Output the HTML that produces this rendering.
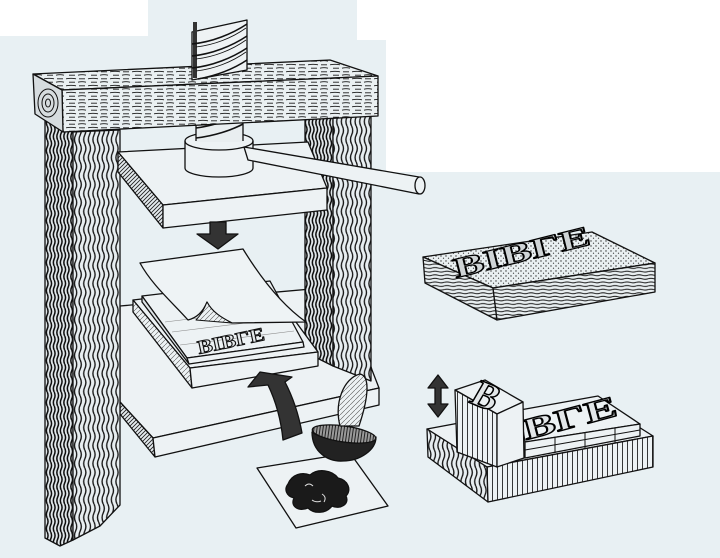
<!DOCTYPE html>
<html><head><meta charset="utf-8">
<style>html,body{margin:0;padding:0;background:#e8f0f3}svg{display:block}</style>
</head><body>
<svg xmlns="http://www.w3.org/2000/svg" width="720" height="558" viewBox="0 0 720 558">
<defs>
  <pattern id="legF" width="4.6" height="18" patternUnits="userSpaceOnUse">
    <rect width="4.6" height="18" fill="#e8eef1"/>
    <path d="M2,0 Q4.2,4.5 2,9 Q-0.2,13.5 2,18" stroke="#141414" stroke-width="1.35" fill="none"/>
  </pattern>
  <pattern id="legS" width="3.5" height="14" patternUnits="userSpaceOnUse">
    <rect width="3.5" height="14" fill="#e0e6e9"/>
    <path d="M1.7,0 Q3.4,3.5 1.7,7 Q0,10.5 1.7,14" stroke="#0e0e0e" stroke-width="1.5" fill="none"/>
  </pattern>
  <pattern id="beam" width="22" height="7" patternUnits="userSpaceOnUse">
    <rect width="22" height="7" fill="#eaf0f2"/>
    <path d="M0,1.8 Q5,0.8 10,1.8 M13,1.8 h6 M3,5.2 h6 M12,5.2 Q16,4.2 20,5.2" stroke="#1a1a1a" stroke-width="0.9" fill="none"/>
  </pattern>
  <pattern id="hatchD" width="4" height="4" patternUnits="userSpaceOnUse">
    <rect width="4" height="4" fill="#e6ecef"/>
    <path d="M-1,1 L1,-1 M0,4 L4,0 M3,5 L5,3" stroke="#222" stroke-width="0.9" fill="none"/>
  </pattern>
  <pattern id="hatchL" width="5" height="5" patternUnits="userSpaceOnUse">
    <rect width="5" height="5" fill="#edf2f4"/>
    <path d="M0,5 L5,0" stroke="#555" stroke-width="0.6" fill="none"/>
  </pattern>
  <pattern id="vstripe" width="5" height="10" patternUnits="userSpaceOnUse">
    <rect width="5" height="10" fill="#edf2f4"/>
    <path d="M2.5,0 V10" stroke="#222" stroke-width="0.9"/>
  </pattern>
  <pattern id="stip" width="5" height="5" patternUnits="userSpaceOnUse">
    <rect width="5" height="5" fill="#e9eff1"/>
    <circle cx="1" cy="1" r="0.7" fill="#333"/>
    <circle cx="3.5" cy="3.2" r="0.6" fill="#333"/>
  </pattern>
  <pattern id="woodH" width="12" height="3.6" patternUnits="userSpaceOnUse">
    <rect width="12" height="3.6" fill="#e8eef0"/>
    <path d="M0,1.6 Q3,0.7 6,1.6 T12,1.6" stroke="#1a1a1a" stroke-width="1" fill="none"/>
  </pattern>
  <pattern id="rays" width="3" height="3" patternUnits="userSpaceOnUse">
    <rect width="3" height="3" fill="#9a9a9a"/>
    <path d="M1.5,0 V3" stroke="#222" stroke-width="1"/>
  </pattern>
</defs>

<!-- background -->
<rect width="720" height="558" fill="#e8f0f3"/>
<rect x="0" y="0" width="148" height="36" fill="#ffffff"/>
<rect x="357" y="0" width="363" height="40" fill="#ffffff"/>
<rect x="386" y="40" width="334" height="132" fill="#ffffff"/>

<g stroke="#111" stroke-width="1.3" stroke-linejoin="round">
<!-- lower platen -->
<polygon points="120,306 345,286 372,370 379,388 153,438 120,402" fill="#edf2f4"/>
<polygon points="120,402 153,438 155,457 120,414" fill="url(#hatchD)"/>
<polygon points="153,438 379,388 379,405 155,457" fill="#edf2f4"/>

<!-- right leg -->
<polygon points="305,113 333,113 333,366 305,352" fill="url(#legS)"/>
<polygon points="333,113 371,113 371,381 333,366" fill="url(#legF)"/>

<!-- left leg -->
<polygon points="45,118 73,132 73,540 60,546 45,538" fill="url(#legS)"/>
<polygon points="73,132 120,130 120,505 100,526 73,540" fill="url(#legF)"/>

<!-- upper platen -->
<polygon points="118,152 308,142 327,188 163,205" fill="#edf2f4"/>
<polygon points="118,152 163,205 163,228 118,172" fill="url(#hatchD)"/>
<polygon points="163,205 327,188 327,210 163,228" fill="#edf2f4"/>

<!-- nut cylinder -->
<path d="M185,141 L185,168 A34,9 0 0 0 253,168 L253,141 A34,9 0 0 0 185,141 Z" fill="#edf2f4"/>
<!-- screw below beam -->
<rect x="196" y="112" width="47" height="30" fill="#e9eef0" stroke="none"/>
<path d="M196,112 V141 M243,112 V141" fill="none"/>
<path d="M196,128 C212,126 230,120 243,114 M196,138 C214,136 232,130 243,124" fill="none" stroke-width="1.6"/>
<path d="M185,141 A34,9 0 0 0 253,141" fill="none"/>

<!-- handle -->
<polygon points="244,147 419,177 419,194 248,160" fill="#edf2f4"/>
<ellipse cx="420" cy="185.5" rx="5" ry="8.5" fill="#edf2f4"/>

<!-- beam -->
<polygon points="33,74 330,60 378,76 62,90" fill="url(#beam)"/>
<polygon points="62,90 378,76 378,116 63,132" fill="url(#beam)"/>
<polygon points="33,74 62,90 63,132 35,114" fill="#d6dcdf"/>
<g fill="none" stroke-width="1">
  <ellipse cx="48" cy="103" rx="10" ry="14"/>
  <ellipse cx="48" cy="103" rx="6" ry="9"/>
  <ellipse cx="48" cy="103" rx="2.5" ry="4"/>
</g>

<!-- screw above beam -->
<polygon points="192,32 247,20 247,70 192,80" fill="#eef2f4"/>
<rect x="193" y="22" width="4" height="56" fill="#333" stroke="none"/>
<path d="M192,44 C212,42 232,34 247,24 M192,56 C212,54 232,46 247,36 M192,68 C212,66 232,58 247,48 M198,79 C214,76 232,70 247,60" fill="none" stroke-width="1.5"/>
<path d="M196,47 C214,45 232,38 246,28 M196,59 C214,57 232,50 246,40 M196,71 C214,69 232,62 246,52" fill="none" stroke-width="0.8"/>

<!-- down arrow -->
<polygon points="210,222 226,222 226,234 238,234 218,249 197,234 210,234" fill="#333"/>

<!-- type board stack -->
<polygon points="133,300 268,284 318,352 190,368" fill="#edf2f4"/>
<polygon points="133,300 190,368 192,388 133,312" fill="url(#hatchL)"/>
<polygon points="190,368 318,352 318,366 192,388" fill="#edf2f4"/>
<polygon points="142,296 270,281 303,342 187,358" fill="#edf2f4"/>
<polygon points="142,296 187,358 189,364 142,302" fill="#dfe5e8"/>
<polygon points="187,358 303,342 304,347 189,364" fill="#edf2f4"/>
<g stroke="#888" stroke-width="0.6" fill="none">
  <path d="M165,322 L280,308 M172,332 L286,318 M180,345 L294,331"/>
</g>
<text x="199" y="354" transform="rotate(-12 199 354)" font-family="'Liberation Serif', serif" font-weight="bold" font-size="19" textLength="68" lengthAdjust="spacingAndGlyphs" fill="#e4e8ea" stroke="#111" stroke-width="1">BIBΓE</text>

<!-- paper sheet -->
<path d="M140,263 L243,249 C262,280 282,305 306,322 L232,323 C222,318 212,312 207,302 C203,312 196,318 188,320 C172,302 152,285 140,263 Z" fill="#eef3f5"/>
<path d="M207,302 C212,312 222,318 232,323 L196,320 C200,316 204,310 207,302 Z" fill="url(#hatchL)" stroke-width="1"/>

<!-- curved arrow -->
<path d="M248,387 L260,372 L292,377 L285,382 Q297,405 302,433 L283,440 Q280,410 268,385 Z" fill="#333"/>

<!-- ink paper -->
<polygon points="257,468 350,453 388,506 296,528" fill="#edf2f4"/>
<path d="M288,484 C292,474 302,472 310,475 C318,468 332,470 338,478 C348,480 352,490 346,496 C350,504 340,510 332,506 C326,514 314,514 308,508 C298,512 290,506 294,498 C286,496 284,489 288,484 Z" fill="#1a1a1a"/>
<path d="M305,486 q4,-4 8,0 M322,494 q5,3 2,8 M312,500 q4,3 9,1" stroke="#ddd" stroke-width="1" fill="none"/>

<!-- ink ball -->
<path d="M312,432 C312,452 328,462 343,461 C360,461 376,450 376,437 C366,443 322,441 312,432 Z" fill="#222"/>
<ellipse cx="344" cy="434" rx="32" ry="8" transform="rotate(8 344 434)" fill="url(#rays)"/>
<path d="M340,426 C334,402 344,378 360,374 C370,376 369,396 359,426 Z" fill="url(#hatchL)"/>

<!-- right top block -->
<polygon points="423,257 592,232 655,263 493,288" fill="url(#stip)"/>
<polygon points="423,257 493,288 497,320 425,283" fill="url(#woodH)"/>
<polygon points="493,288 655,263 655,292 497,320" fill="url(#woodH)"/>
<text x="0" y="0" transform="translate(456,278) rotate(-14) scale(1,0.78)" font-family="'Liberation Serif', serif" font-weight="bold" font-size="36" textLength="140" lengthAdjust="spacingAndGlyphs" fill="#cfd4d6" stroke="#000" stroke-width="1.6">BIBΓE</text>

<!-- type set base -->
<polygon points="427,429 593,398 653,436 487,467" fill="#edf2f4"/>
<polygon points="427,429 487,467 488,502 428,457" fill="url(#legF)"/>
<polygon points="487,467 653,436 653,467 488,502" fill="url(#vstripe)"/>

<!-- small type blocks -->
<polygon points="520,410 598,396 640,424 525,442" fill="#edf2f4"/>
<polygon points="525,442 640,424 640,436 525,458" fill="#edf2f4"/>
<path d="M525,450 L640,430 M555,437 V453 M585,432 V448 M615,428 V443" fill="none" stroke-width="1"/>
<text x="526" y="440" transform="rotate(-15 526 440)" font-family="'Liberation Serif', serif" font-weight="bold" font-size="30" textLength="96" lengthAdjust="spacingAndGlyphs" fill="#e2e6e8" stroke="#000" stroke-width="1.4">BΓE</text>

<!-- tall B block -->
<polygon points="455,390 485,380 523,402 497,414" fill="#edf2f4"/>
<polygon points="455,390 497,414 497,467 457,452" fill="url(#vstripe)"/>
<polygon points="497,414 523,402 524,458 497,467" fill="#edf2f4"/>
<text x="0" y="0" transform="translate(468,402) rotate(22) skewX(-8)" font-family="'Liberation Serif', serif" font-weight="bold" font-size="38" fill="#e2e6e8" stroke="#000" stroke-width="1.5">B</text>

<!-- double arrow -->
<polygon points="438,375 448,388 441,388 441,404 448,404 438,417 428,404 435,404 435,388 428,388" fill="#333"/>
</g>
</svg>
</body></html>
